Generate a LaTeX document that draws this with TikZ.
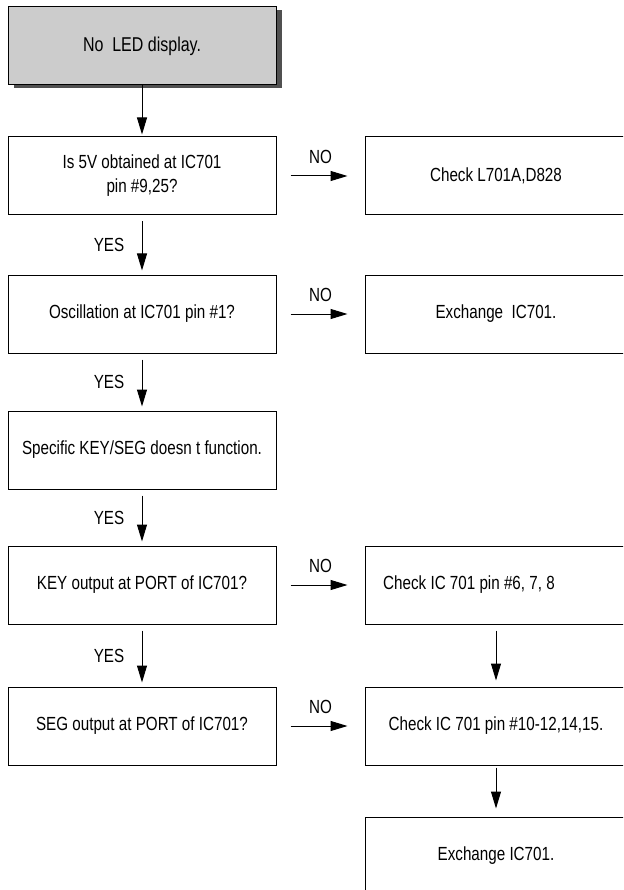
\documentclass[tikz,border=0pt]{standalone}
\usepackage{fontspec}
\setmainfont{Liberation Sans}[FakeStretch=0.8]
\usepackage{tikz}
\usetikzlibrary{arrows.meta,shadows}
\definecolor{titlegray}{RGB}{204,204,204}
\definecolor{shadowgray}{RGB}{80,80,80}

\begin{document}
\begin{tikzpicture}[x=1pt,y=-1pt,>={Triangle[length=17pt,width=10pt]},
  box/.style={draw,line width=1pt,minimum width=268pt,minimum height=78pt,inner sep=0pt,align=center,font=\fontsize{19}{24}\selectfont},
  rbox/.style={box,minimum width=262pt},
  lbl/.style={font=\fontsize{19}{24}\selectfont},
  arr/.style={->,line width=1pt}]
  \useasboundingbox (0,0) rectangle (623,890);
  \clip (0,0) rectangle (623,890);
  % left column
  \node[box,fill=titlegray,font=\fontsize{20}{24}\selectfont,
        drop shadow={shadow xshift=6pt,shadow yshift=-3pt,fill=shadowgray,opacity=1}] (title) at (142,46) {No\ \ LED display.};
  \node[box] (b1) at (142,176) {Is 5V obtained at IC701\\pin \#9,25?};
  \node[box] (b2) at (142,314) {Oscillation at IC701 pin \#1?};
  \node[box] (b3) at (142,450) {Specific KEY/SEG doesn t function.};
  \node[box] (b4) at (142,585) {KEY output at PORT of IC701?};
  \node[box] (b5) at (142,726) {SEG output at PORT of IC701?};
  % right column
  \node[rbox] (r1) at (496,176) {Check L701A,D828};
  \node[rbox] (r2) at (496,314) {Exchange\ \ IC701.};
  \node[rbox] (r4) at (496,585) {Check IC 701 pin \#6, 7, 8\hspace*{54pt}};
  \node[rbox] (r5) at (496,726) {Check IC 701 pin \#10-12,14,15.};
  \node[rbox] (r6) at (496,856) {Exchange IC701.};
  % yes path
  \draw[arr,shorten >=2pt] (title) -- (b1);
  \foreach \a/\b in {b1/b2,b2/b3,b3/b4,b4/b5}
    \draw[arr,shorten <=6pt,shorten >=4pt] (\a) -- node[lbl,left=14pt]{YES} (\b);
  % no branches
  \foreach \a/\b in {b1/r1,b2/r2,b4/r4,b5/r5}
    \draw[arr,shorten <=14pt,shorten >=17pt] (\a) -- node[lbl,above=8pt]{NO} (\b);
  \draw[arr,shorten <=6pt,shorten >=6pt] (r4) -- (r5);
  \draw[arr,shorten <=2pt,shorten >=8pt] (r5) -- (r6);
\end{tikzpicture}
\end{document}
